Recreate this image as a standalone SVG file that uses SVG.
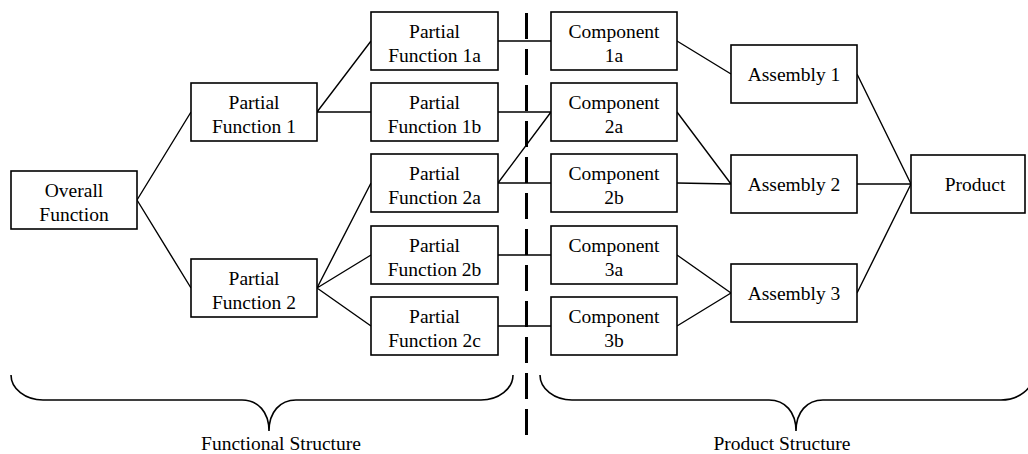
<svg xmlns="http://www.w3.org/2000/svg" width="1028" height="454" viewBox="0 0 1028 454">
<style>
.box{fill:#fff;stroke:#000;stroke-width:1.6}
.ln{stroke:#000;stroke-width:1.4;fill:none}
.br{stroke:#000;stroke-width:1.6;fill:none}
</style>
<rect width="1028" height="454" fill="#fff"/>
<g id="connectors">
<path class="ln" d="M137,200 L191,112 M137,200 L191,288"/>
<path class="ln" d="M317,112 L371,41 M317,112 L371,112 M317,288 L371,183 M317,288 L371,255 M317,288 L371,326"/>
<path class="ln" d="M498,41 L551,41 M498,112 L551,112 M498,183 L551,112 M498,183 L551,183 M498,255 L551,255 M498,326 L551,326"/>
<path class="ln" d="M677,41 L731,74 M677,112 L731,184 M677,183 L731,184 M677,255 L731,293 M677,326 L731,293"/>
<path class="ln" d="M857,74 L911,184 M857,184 L911,184 M857,293 L911,184"/>
</g>
<g id="divider"><line x1="526.5" y1="13" x2="526.5" y2="437" stroke="#000" stroke-width="3" stroke-dasharray="26 10"/></g>
<g font-family="Liberation Serif, Times New Roman, serif" font-size="19.5" text-anchor="middle" fill="#000">
<g id="overall"><rect class="box" x="11" y="171" width="126" height="58"/><text x="74" y="197">Overall</text><text x="74" y="221">Function</text></g>
<g id="pf1"><rect class="box" x="191" y="83" width="126" height="58"/><text x="254" y="109">Partial</text><text x="254" y="133">Function 1</text></g>
<g id="pf2"><rect class="box" x="191" y="259" width="126" height="58"/><text x="254" y="285">Partial</text><text x="254" y="309">Function 2</text></g>
<g id="pf1a"><rect class="box" x="371" y="12" width="127" height="58"/><text x="434.5" y="38">Partial</text><text x="434.5" y="62">Function 1a</text></g>
<g id="pf1b"><rect class="box" x="371" y="83" width="127" height="58"/><text x="434.5" y="109">Partial</text><text x="434.5" y="133">Function 1b</text></g>
<g id="pf2a"><rect class="box" x="371" y="154" width="127" height="58"/><text x="434.5" y="180">Partial</text><text x="434.5" y="204">Function 2a</text></g>
<g id="pf2b"><rect class="box" x="371" y="226" width="127" height="58"/><text x="434.5" y="252">Partial</text><text x="434.5" y="276">Function 2b</text></g>
<g id="pf2c"><rect class="box" x="371" y="297" width="127" height="58"/><text x="434.5" y="323">Partial</text><text x="434.5" y="347">Function 2c</text></g>
<g id="c1a"><rect class="box" x="551" y="12" width="126" height="58"/><text x="614" y="38">Component</text><text x="614" y="62">1a</text></g>
<g id="c2a"><rect class="box" x="551" y="83" width="126" height="58"/><text x="614" y="109">Component</text><text x="614" y="133">2a</text></g>
<g id="c2b"><rect class="box" x="551" y="154" width="126" height="58"/><text x="614" y="180">Component</text><text x="614" y="204">2b</text></g>
<g id="c3a"><rect class="box" x="551" y="226" width="126" height="58"/><text x="614" y="252">Component</text><text x="614" y="276">3a</text></g>
<g id="c3b"><rect class="box" x="551" y="297" width="126" height="58"/><text x="614" y="323">Component</text><text x="614" y="347">3b</text></g>
<g id="a1"><rect class="box" x="731" y="45" width="126" height="58"/><text x="794" y="81">Assembly 1</text></g>
<g id="a2"><rect class="box" x="731" y="155" width="126" height="58"/><text x="794" y="191">Assembly 2</text></g>
<g id="a3"><rect class="box" x="731" y="264" width="126" height="58"/><text x="794" y="300">Assembly 3</text></g>
<g id="product"><rect class="box" x="911" y="155" width="114" height="58"/><text x="975" y="191">Product</text></g>
<g id="functional-brace"><path class="br" d="M11,375 A32,25 0 0 0 43,400 L242,400 C258,400 269,412 269,431 C269,412 280,400 296,400 L481,400 A32,25 0 0 0 513,375"/><text x="281" y="450">Functional Structure</text></g>
<g id="product-brace"><path class="br" d="M540,375 A32,25 0 0 0 572,400 L769,400 C785,400 796,412 796,431 C796,412 807,400 823,400 L1001,400 A32,25 0 0 0 1033,375"/><text x="782" y="450">Product Structure</text></g>
</g>
</svg>
